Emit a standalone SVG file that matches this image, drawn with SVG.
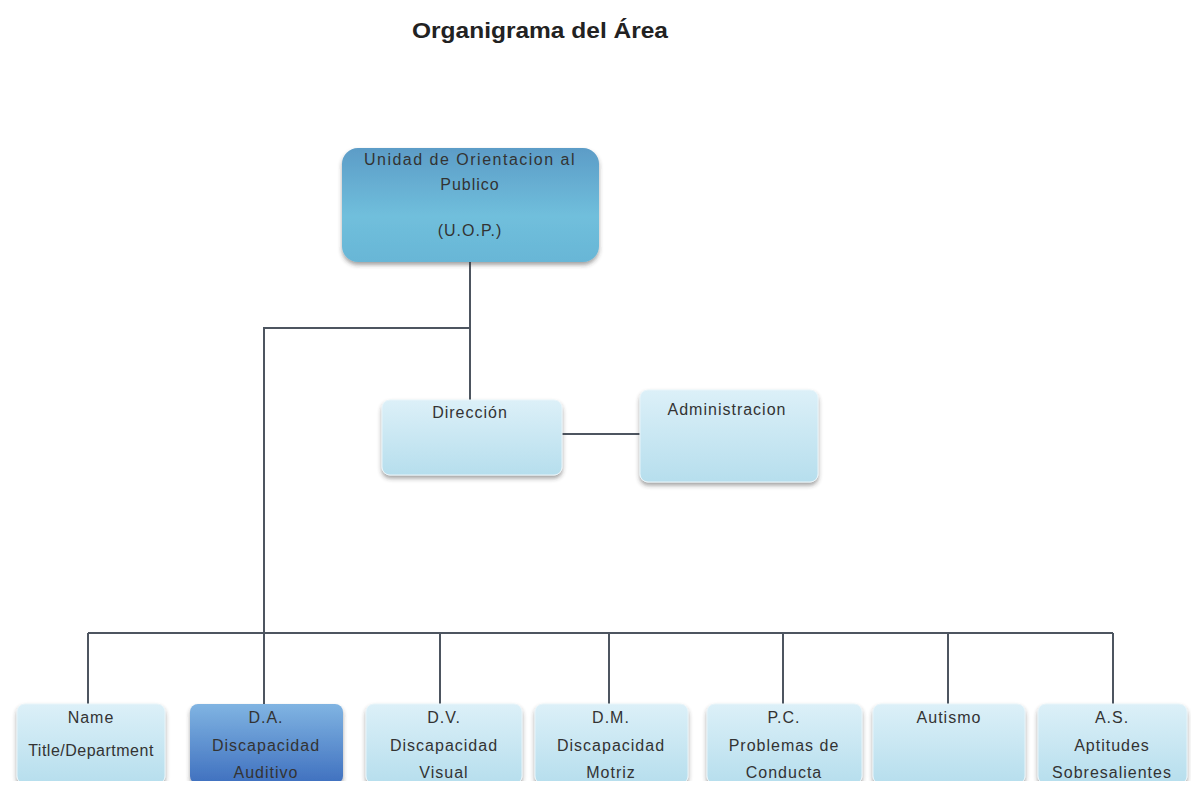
<svg xmlns="http://www.w3.org/2000/svg" width="1191" height="787" viewBox="0 0 1191 787">
<style>
.t{font-family:"Liberation Sans",Arial,sans-serif;font-size:16px;fill:#333;text-anchor:middle;letter-spacing:1px}
.title{font-family:"Liberation Sans",Arial,sans-serif;font-size:22px;font-weight:bold;fill:#222}
.ln{stroke:#4d5560;stroke-width:2;fill:none}
.lb{fill:url(#gl);stroke:#e8f4f9;stroke-width:1;filter:url(#sh)}
</style>
<defs>
<linearGradient id="gl" x1="0" y1="0" x2="0" y2="1"><stop offset="0" stop-color="#dcf0f8"/><stop offset="1" stop-color="#b6deed"/></linearGradient>
<linearGradient id="gd" x1="0" y1="0" x2="0" y2="1"><stop offset="0" stop-color="#80b4e2"/><stop offset="1" stop-color="#3f70bf"/></linearGradient>
<linearGradient id="gu" x1="0" y1="0" x2="0" y2="1"><stop offset="0" stop-color="#5c9cc7"/><stop offset="0.6" stop-color="#70bfdc"/><stop offset="1" stop-color="#68b6d6"/></linearGradient>
<filter id="sh" x="-10%" y="-10%" width="120%" height="130%"><feDropShadow dx="0" dy="3" stdDeviation="2" flood-color="#333" flood-opacity="0.45"/></filter>
<clipPath id="cb"><rect x="0" y="690" width="1191" height="91"/></clipPath>
</defs>
<rect width="1191" height="787" fill="#fff"/>
<text class="title" x="412" y="38" textLength="256" lengthAdjust="spacingAndGlyphs">Organigrama del Área</text>
<g id="connectors">
<path class="ln" d="M470,262 V400"/>
<path class="ln" d="M470,328 H264 V704"/>
<path class="ln" d="M562,434 H640"/>
<path class="ln" d="M88,633 H1113"/>
<path class="ln" d="M88,633 V704 M440,633 V704 M609,633 V704 M783,633 V704 M948,633 V704 M1113,633 V704"/>
</g>
<g id="uop">
<rect x="342" y="148" width="257" height="114" rx="16" fill="url(#gu)" filter="url(#sh)"/>
<text class="t" x="470" y="165" style="letter-spacing:1.5px">Unidad de Orientacion al</text>
<text class="t" x="470" y="190">Publico</text>
<text class="t" x="470" y="236">(U.O.P.)</text>
</g>
<g id="direccion">
<rect class="lb" x="382" y="400" width="180" height="75" rx="8"/>
<text class="t" x="470" y="418">Dirección</text>
</g>
<g id="administracion">
<rect class="lb" x="640" y="390" width="178" height="92" rx="8"/>
<text class="t" x="727" y="415">Administracion</text>
</g>
<g clip-path="url(#cb)">
<g id="name">
<rect class="lb" x="17" y="704" width="148" height="80" rx="8"/>
<text class="t" x="91" y="723">Name</text>
<text class="t" x="91" y="756" style="letter-spacing:0.5px">Title/Department</text>
</g>
<g id="da">
<rect x="190" y="704" width="153" height="80" rx="8" fill="url(#gd)" filter="url(#sh)"/>
<text class="t" x="266" y="723">D.A.</text>
<text class="t" x="266" y="751">Discapacidad</text>
<text class="t" x="266" y="778">Auditivo</text>
</g>
<g id="dv">
<rect class="lb" x="366" y="704" width="156" height="80" rx="8"/>
<text class="t" x="444" y="723">D.V.</text>
<text class="t" x="444" y="751">Discapacidad</text>
<text class="t" x="444" y="778">Visual</text>
</g>
<g id="dm">
<rect class="lb" x="535" y="704" width="153" height="80" rx="8"/>
<text class="t" x="611" y="723">D.M.</text>
<text class="t" x="611" y="751">Discapacidad</text>
<text class="t" x="611" y="778">Motriz</text>
</g>
<g id="pc">
<rect class="lb" x="707" y="704" width="155" height="80" rx="8"/>
<text class="t" x="784" y="723">P.C.</text>
<text class="t" x="784" y="751">Problemas de</text>
<text class="t" x="784" y="778">Conducta</text>
</g>
<g id="autismo">
<rect class="lb" x="873" y="704" width="152" height="80" rx="8"/>
<text class="t" x="949" y="723">Autismo</text>
</g>
<g id="as">
<rect class="lb" x="1038" y="704" width="149" height="80" rx="8"/>
<text class="t" x="1112" y="723">A.S.</text>
<text class="t" x="1112" y="751">Aptitudes</text>
<text class="t" x="1112" y="778">Sobresalientes</text>
</g>
</g>
</svg>
